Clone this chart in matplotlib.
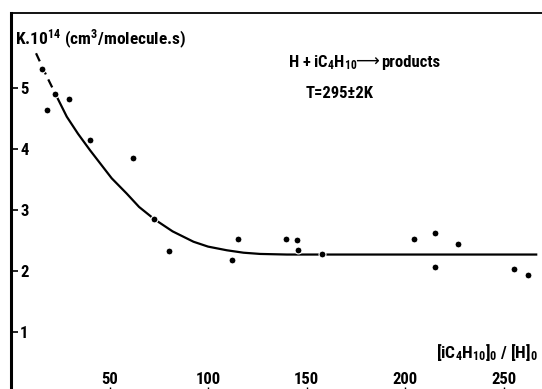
import matplotlib
matplotlib.use('Agg')
import matplotlib.pyplot as plt

plt.rcParams['font.family'] = ['Roboto Condensed', 'DejaVu Sans']
plt.rcParams['font.weight'] = 'bold'
plt.rcParams['mathtext.fontset'] = 'custom'
plt.rcParams['mathtext.rm'] = 'Roboto Condensed:bold'
plt.rcParams['mathtext.it'] = 'Roboto Condensed:bold'
plt.rcParams['mathtext.bf'] = 'Roboto Condensed:bold'

# measured points: [iC4H10]0/[H]0 vs k (1e-14 cm3/molecule.s)
ratio = [15.6, 18.1, 22.3, 29.4, 40.1, 61.8, 72.7, 80.4, 112.2, 115.1,
         139.6, 145.2, 145.5, 157.9, 204.4, 215.2, 215.2, 226.9, 255.2, 262.4]
k = [5.31, 4.64, 4.90, 4.82, 4.15, 3.85, 2.85, 2.32, 2.18, 2.52,
     2.52, 2.51, 2.34, 2.28, 2.52, 2.63, 2.06, 2.45, 2.04, 1.93]

# hand-drawn curve
curve_x = [12.7, 18.0, 23.2, 28.3, 34.0, 40.1, 51.1, 58.7, 65.0, 72.7,
           82.0, 92.6, 100.0, 109.5, 118.0, 126.4, 140.0, 160.0, 200.0, 240.0, 266.5]
curve_y = [5.57, 5.20, 4.86, 4.53, 4.25, 3.98, 3.52, 3.27, 3.05, 2.85,
           2.65, 2.48, 2.40, 2.34, 2.30, 2.28, 2.27, 2.27, 2.27, 2.27, 2.27]

xticks = [50, 100, 150, 200, 250]
yticks = [1, 2, 3, 4, 5]

fig = plt.figure(figsize=(5.42, 3.89), dpi=100)
ax = fig.add_axes([0.0203, -0.0103, 0.989, 0.9769])

ax.plot(curve_x[:3], curve_y[:3], color='black', lw=1.6, ls=(0, (4, 2.5)))
ax.plot(curve_x[2:], curve_y[2:], color='black', lw=1.6)
ax.plot(ratio, k, 'o', color='black', ms=5, mec='white', mew=0.8)

ax.set_xlim(0, 272)
ax.set_ylim(0, 6.23)

ax.spines['right'].set_visible(False)
ax.spines['bottom'].set_visible(False)
ax.spines['left'].set_linewidth(2.2)
ax.spines['top'].set_linewidth(1.3)

ax.set_xticks(xticks)
ax.set_yticks(yticks)
ax.tick_params(axis='y', direction='in', length=5, width=1.2, pad=-6.5, labelsize=12)
for lab in ax.get_yticklabels():
    lab.set_horizontalalignment('left')
ax.tick_params(axis='x', direction='in', length=4, width=1.0, pad=-15, labelsize=12)

ax.text(0.008, 0.916, r'K.10$^{14}$ (cm$^{3}$/molecule.s)', transform=ax.transAxes,
        fontsize=12.5, ha='left', va='baseline')

ax.text(0.517, 0.858, r'H + iC$_4$H$_{10}$', transform=ax.transAxes,
        fontsize=12, ha='left', va='baseline')
ax.text(0.642, 0.858, '⟶', transform=ax.transAxes, family='DejaVu Sans',
        fontweight='normal', fontsize=12, ha='left', va='baseline')
ax.text(0.69, 0.858, 'products', transform=ax.transAxes,
        fontsize=12, ha='left', va='baseline')
ax.text(0.55, 0.776, 'T=295±2K', transform=ax.transAxes,
        fontsize=12, ha='left', va='baseline')
ax.text(0.983, 0.092, r'[iC$_4$H$_{10}$]$_0$ / [H]$_0$', transform=ax.transAxes,
        fontsize=12.5, ha='right', va='baseline')

fig.savefig('out.png', dpi=100)
